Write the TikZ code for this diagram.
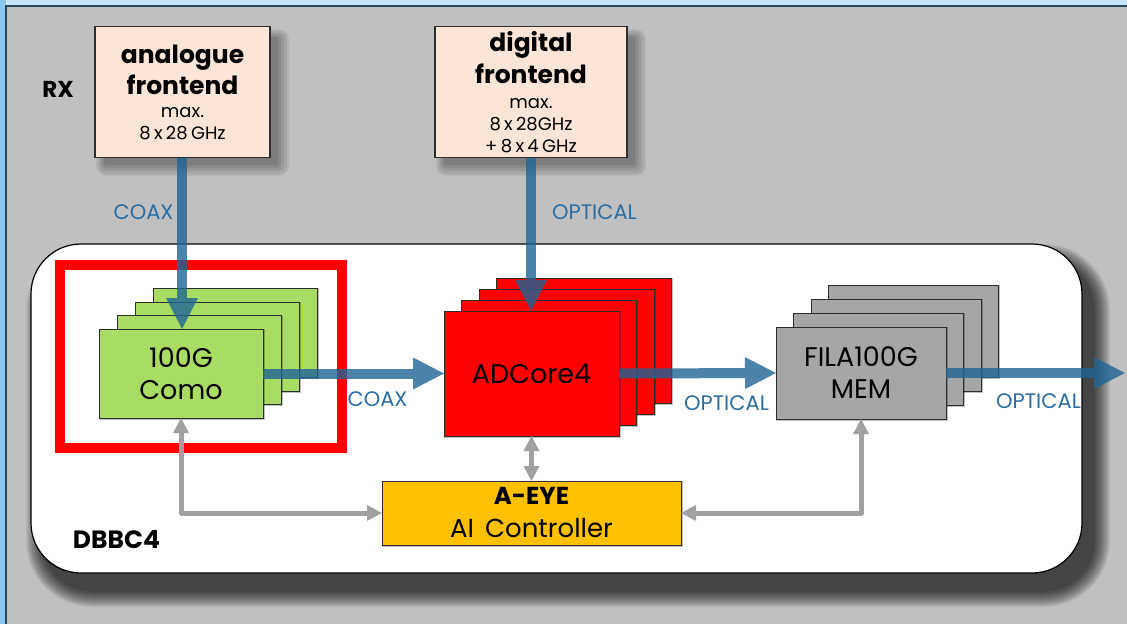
\documentclass[tikz,border=0pt]{standalone}
\usepackage{fontspec}
\setmainfont{Poppins}[WordSpace=1.7]
\usetikzlibrary{arrows.meta}
\definecolor{bgray}{RGB}{192,192,192}
\definecolor{topblue}{RGB}{200,227,246}
\definecolor{leftblue}{RGB}{140,197,238}
\definecolor{frameline}{RGB}{40,72,95}
\definecolor{fefill}{RGB}{251,229,214}
\definecolor{comofill}{RGB}{169,220,98}
\definecolor{adcfill}{RGB}{255,0,0}
\definecolor{filafill}{RGB}{166,166,166}
\definecolor{aeyefill}{RGB}{255,192,0}
\definecolor{boxline}{RGB}{45,45,45}
\definecolor{linkblue}{RGB}{31,100,150}
\definecolor{labelblue}{RGB}{40,110,165}
\definecolor{ctrlgray}{RGB}{160,160,160}
\definecolor{shadeA}{RGB}{180,180,180}
\definecolor{shadeB}{RGB}{166,166,166}
\definecolor{shadeC}{RGB}{152,152,152}
\definecolor{shadeD}{RGB}{138,138,138}
\definecolor{shadeE}{RGB}{125,125,125}
\tikzset{
  febox/.style={draw=boxline, line width=1.2pt, fill=fefill, outer sep=0pt,
    minimum width=#1, minimum height=131pt, align=center, inner sep=0pt},
  softshadow/.style={fill=black, fill opacity=0.055},
  layer/.style={draw=boxline, line width=1pt, outer sep=0pt, inner sep=0pt, align=center,
    preaction={draw=black, draw opacity=0.25, line width=1.5pt, transform canvas={xshift=1.2pt, yshift=-1.2pt}}},
  comobox/.style={layer, fill=comofill, minimum width=164pt, minimum height=89pt},
  adcbox/.style={layer, fill=adcfill, minimum width=175pt, minimum height=125pt},
  filabox/.style={layer, fill=filafill, minimum width=170pt, minimum height=92pt},
  bigtxt/.style={font=\fontsize{27}{32}\selectfont},
  linktxt/.style={text=labelblue, font=\fontsize{21}{24}\selectfont, inner sep=0pt},
  bluelink/.style={draw=linkblue, opacity=0.8, line width=10pt,
    arrows={-Triangle[length=31pt, width=32pt, line width=0pt]}},
  ctrl/.style={draw=ctrlgray, line width=5pt, line join=round,
    arrows={Triangle[length=15pt, width=16pt, line width=0pt]-Triangle[length=15pt, width=16pt, line width=0pt]}},
}
\begin{document}
\begin{tikzpicture}[x=1pt, y=-1pt]
\useasboundingbox (0,0) rectangle (1127,624);
\fill[bgray] (0,0) rectangle (1127,624);
\fill[topblue] (0,0) rectangle (1127,6);
\fill[leftblue] (0,0) rectangle (6,624);
\draw[frameline, line width=2pt] (6,624) -- (6,6) -- (1127,6);

% soft shadows of the frontends (grey steps)
\fill[shadeA, rounded corners=10pt] (96,29) rectangle (289,176);
\fill[shadeB, rounded corners=8pt] (98,31) rectangle (287,174);
\fill[shadeC, rounded corners=6pt] (100,33) rectangle (284,171);
\fill[shadeD, rounded corners=4pt] (102,35) rectangle (281,168);
\fill[shadeE, rounded corners=2pt] (104,37) rectangle (278,165);
\fill[shadeA, rounded corners=10pt] (436,29) rectangle (646,176);
\fill[shadeB, rounded corners=8pt] (438,31) rectangle (644,174);
\fill[shadeC, rounded corners=6pt] (440,33) rectangle (641,171);
\fill[shadeD, rounded corners=4pt] (442,35) rectangle (638,168);
\fill[shadeE, rounded corners=2pt] (444,37) rectangle (635,165);

% soft shadow of the container
\foreach \r [evaluate=\r as \rc using 50+\r] in {0,...,16} {
  \fill[softshadow, rounded corners=\rc pt] (42-\r,260-\r) rectangle (1094+\r,591+\r);
}

% DBBC4 container
\node[draw=black, line width=1.2pt, fill=white, rounded corners=50pt, minimum width=1051pt, minimum height=329pt, outer sep=0pt]
  (dbbc) at (556.5,408.5) {};
\node[font=\fontsize{25}{30}\selectfont\bfseries, inner sep=0pt] (dbbclabel) at (116.5,540) {DBBC4};

% frontends
\node[febox=175pt, text width=172pt] (afe) at (182.5,92)
  {\fontsize{25}{31}\selectfont\bfseries analogue\par frontend\par\vspace{1pt}\fontsize{18}{22}\selectfont\mdseries max.\par 8 x 28 GHz\par};
\node[febox=192pt, text width=188pt] (dfe) at (531,92)
  {\fontsize{25}{32}\selectfont\bfseries digital\par frontend\par\vspace{3pt}\fontsize{18}{22}\selectfont\mdseries max.\par 8 x 28GHz\par + 8 x 4 GHz\par};
\node[font=\fontsize{23}{26}\selectfont\bfseries, inner sep=0pt] (rx) at (58,89.5) {RX};

% highlight frame
\node[draw=red, line width=10pt, minimum width=282pt, minimum height=183pt, inner sep=0pt] (hl) at (201,356.5) {};

% Como stack
\node[comobox] (como4) at (235,333) {};
\node[comobox] (como3) at (217,346.5) {};
\node[comobox] (como2) at (199,360) {};
\node[comobox, bigtxt] (como1) at (181,373.5) {100G\\Como};

% ADCore stack
\node[adcbox] (adc4) at (584,340.5) {};
\node[adcbox] (adc3) at (566.5,351.5) {};
\node[adcbox] (adc2) at (549,362.5) {};
\node[adcbox, bigtxt] (adc1) at (531.5,373.5) {ADCore4};

% FILA stack
\node[filabox] (fila4) at (913.5,331) {};
\node[filabox] (fila3) at (896,345) {};
\node[filabox] (fila2) at (878.5,359) {};
\node[filabox, bigtxt] (fila1) at (861,373) {FILA100G\\MEM};

% A-EYE
\node[layer, fill=aeyefill, minimum width=299pt, minimum height=64pt, text width=295pt]
  (aeye) at (531.5,513) {{\fontsize{24.5}{33}\selectfont\bfseries A-EYE\par}\fontsize{26}{33}\selectfont AI\hspace{0.3em} Controller\par};

% control links
\draw[ctrl] (como1.south) -- (como1.south |- aeye.west) -- (aeye.west);
\draw[ctrl] (adc1.south) -- (aeye.north);
\draw[ctrl] (fila1.south) -- (fila1.south |- aeye.east) -- (aeye.east);

% data links
\coordinate (out) at (1125,373);
\draw[bluelink] (afe.south -| 182,0) -- (como1.north -| 182,0);
\draw[bluelink] (dfe.south) -- (adc1.north -| dfe.south);
\draw[bluelink] (como1.east) -- (adc1.west);
\draw[bluelink] (adc1.east) -- (fila1.west);
\draw[bluelink] (fila1.east) -- (out);

% link labels
\node[linktxt] (l1) at (143.5,212) {COAX};
\node[linktxt] (l2) at (594.5,212) {OPTICAL};
\node[linktxt] (l3) at (377.5,399) {COAX};
\node[linktxt] (l4) at (726.5,403.5) {OPTICAL};
\node[linktxt] (l5) at (1038.5,401.5) {OPTICAL};
\end{tikzpicture}
\end{document}
